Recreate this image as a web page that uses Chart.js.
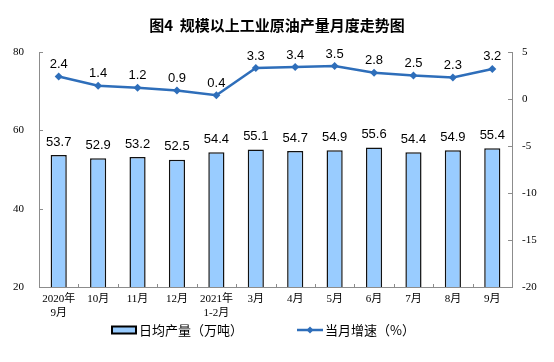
<!DOCTYPE html>
<html>
<head>
<meta charset="utf-8">
<script src="https://cdn.jsdelivr.net/npm/chart.js@4.4.0/dist/chart.umd.min.js"></script>
<style>
  body { margin: 0; background: #fff; }
  canvas { display: block; }
</style>
</head>
<body>
<canvas id="oilChart" width="554" height="362"></canvas>
<script>
const months = [['2020年', '9月'], '10月', '11月', '12月', ['2021年', '1-2月'], '3月', '4月', '5月', '6月', '7月', '8月', '9月'];
const dailyOutput = [53.7, 52.9, 53.2, 52.5, 54.4, 55.1, 54.7, 54.9, 55.6, 54.4, 54.9, 55.4];
const growthRate = [2.4, 1.4, 1.2, 0.9, 0.4, 3.3, 3.4, 3.5, 2.8, 2.5, 2.3, 3.2];

const barFill = '#99CCFF';
const lineBlue = '#2E6EBA';
const axisGray = '#8c8c8c';

// value labels above bars and points
const valueLabels = {
  id: 'valueLabels',
  afterDatasetsDraw(chart) {
    const ctx = chart.ctx;
    ctx.save();
    ctx.font = '13px "Liberation Sans", Arial, sans-serif';
    ctx.fillStyle = '#000';
    ctx.textAlign = 'center';
    ctx.textBaseline = 'middle';
    chart.data.datasets.forEach((ds, i) => {
      const meta = chart.getDatasetMeta(i);
      meta.data.forEach((el, j) => {
        const off = ds.type === 'bar' ? 13 : 12;
        ctx.fillText(ds.data[j].toFixed(1), el.x, el.y - off);
      });
    });
    ctx.restore();
  }
};

// small inward tick marks on the axes
const innerTicks = {
  id: 'innerTicks',
  afterDraw(chart) {
    const ctx = chart.ctx;
    const a = chart.chartArea;
    const yl = chart.scales.y, yr = chart.scales.y1, x = chart.scales.x;
    ctx.save();
    ctx.strokeStyle = axisGray;
    ctx.lineWidth = 1;
    ctx.beginPath();
    yl.ticks.forEach(t => {
      const py = Math.round(yl.getPixelForValue(t.value)) + 0.5;
      ctx.moveTo(a.left, py); ctx.lineTo(a.left + 4, py);
    });
    yr.ticks.forEach(t => {
      const py = Math.round(yr.getPixelForValue(t.value)) + 0.5;
      ctx.moveTo(a.right, py); ctx.lineTo(a.right - 4, py);
    });
    const step = (a.right - a.left) / months.length;
    for (let k = 1; k < months.length; k++) {
      const px = Math.round(a.left + k * step) + 0.5;
      ctx.moveTo(px, a.bottom); ctx.lineTo(px, a.bottom - 3);
    }
    ctx.stroke();
    ctx.restore();
  }
};

// legend drawn under the axis
const bottomLegend = {
  id: 'bottomLegend',
  afterDraw(chart) {
    const ctx = chart.ctx;
    const y = 330;
    ctx.save();
    ctx.fillStyle = barFill;
    ctx.fillRect(112, y - 3.5, 24, 7);
    ctx.strokeStyle = '#000';
    ctx.lineWidth = 2;
    ctx.strokeRect(112, y - 3.5, 24, 7);

    ctx.strokeStyle = lineBlue;
    ctx.lineWidth = 2.5;
    ctx.beginPath();
    ctx.moveTo(297, y); ctx.lineTo(323, y);
    ctx.stroke();
    ctx.fillStyle = lineBlue;
    ctx.beginPath();
    ctx.moveTo(310, y - 3.5); ctx.lineTo(313.5, y); ctx.lineTo(310, y + 3.5); ctx.lineTo(306.5, y);
    ctx.closePath();
    ctx.fill();

    ctx.fillStyle = '#000';
    ctx.font = '13px "Noto Sans CJK SC", sans-serif';
    ctx.textBaseline = 'middle';
    ctx.textAlign = 'left';
    ctx.fillText('日均产量（万吨）', 139, y);
    ctx.fillText('当月增速（%）', 325, y);
    ctx.restore();
  }
};

new Chart(document.getElementById('oilChart'), {
  data: {
    labels: months,
    datasets: [
      {
        type: 'line',
        label: '当月增速（%）',
        data: growthRate,
        yAxisID: 'y1',
        borderColor: lineBlue,
        backgroundColor: lineBlue,
        borderWidth: 2.5,
        pointStyle: 'rectRot',
        pointRadius: 4,
        pointBorderWidth: 0,
        tension: 0,
        order: 0
      },
      {
        type: 'bar',
        label: '日均产量（万吨）',
        data: dailyOutput,
        yAxisID: 'y',
        backgroundColor: barFill,
        borderColor: '#111',
        borderWidth: 1.5,
        categoryPercentage: 1,
        barPercentage: 0.41,
        order: 1
      }
    ]
  },
  plugins: [valueLabels, innerTicks, bottomLegend],
  options: {
    responsive: false,
    animation: false,
    layout: { padding: { left: 0, right: 0, top: 0, bottom: 0 } },
    scales: {
      x: {
        grid: { display: false, drawTicks: false },
        border: { color: axisGray },
        ticks: {
          color: '#000',
          font: { family: '"Liberation Serif", "Noto Sans CJK SC", serif', size: 11 },
          padding: 6,
          maxRotation: 0,
          autoSkip: false
        },
        afterFit: s => { s.height = 75; }
      },
      y: {
        position: 'left',
        min: 20,
        max: 80,
        grid: { display: false, drawTicks: false },
        border: { color: axisGray },
        ticks: {
          stepSize: 20,
          color: '#000',
          padding: 15,
          font: { family: '"Liberation Serif", serif', size: 11 }
        },
        afterFit: s => { s.width = 39; }
      },
      y1: {
        position: 'right',
        min: -20,
        max: 5,
        grid: { display: false, drawTicks: false },
        border: { color: axisGray },
        ticks: {
          stepSize: 5,
          color: '#000',
          padding: 10,
          font: { family: '"Liberation Serif", serif', size: 11 }
        },
        afterFit: s => { s.width = 42; }
      }
    },
    plugins: {
      legend: { display: false },
      tooltip: { enabled: false },
      title: {
        display: true,
        text: '图4  规模以上工业原油产量月度走势图',
        color: '#000',
        font: { family: '"Noto Sans CJK SC", sans-serif', size: 15, weight: 'bold' },
        padding: { top: 16, bottom: 18 }
      }
    }
  }
});
</script>
</body>
</html>
